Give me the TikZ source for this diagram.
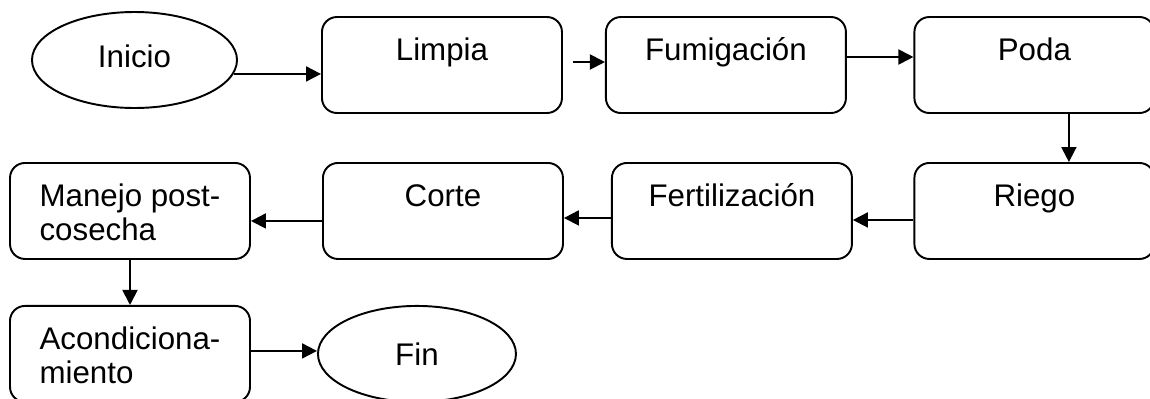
\documentclass[tikz,border=0pt]{standalone}
\usepackage{fontspec}
\setmainfont{Liberation Sans}
\usetikzlibrary{positioning,shapes.geometric,arrows.meta}

\newcommand{\etapa}[1]{\parbox[c][1.92cm][t]{4.8cm}{\centering\rule{0pt}{24.9pt}#1}}
\newcommand{\etapados}[2]{\parbox[c][1.92cm][t]{4.8cm}{\centering\rule{0pt}{24.9pt}\begin{tabular}[t]{@{}l@{}}#1\\#2\end{tabular}}}

\begin{document}
\begin{tikzpicture}[
    caja/.style={rectangle,draw,line width=1.1pt,rounded corners=0.3cm,inner sep=0pt},
    ovalo/.style={ellipse,draw,line width=1.1pt,minimum width=4.1cm,minimum height=1.92cm,inner sep=0pt},
    flecha/.style={-{Triangle[length=0.3cm,width=0.3cm]},line width=1.1pt},
    font=\fontsize{17.8}{19.3}\selectfont]
    \useasboundingbox (0,0) rectangle (23,-7.96);

    \node[ovalo] (inicio) at (2.69,-1.2) {\raisebox{0.14cm}{Inicio}};
    \node[caja,right=3.73cm,yshift=-0.1cm] (limpia) at (inicio) {\etapa{Limpia}};
    \node[caja,right=3.26cm] (fumig) at (limpia) {\etapa{Fumigación}};
    \node[caja,right=3.75cm] (poda) at (fumig) {\etapa{Poda}};

    \node[caja,below=1.94cm] (riego) at (poda) {\etapa{Riego}};
    \node[caja,left=3.63cm] (fert) at (riego) {\etapa{Fertilización}};
    \node[caja,left=3.36cm] (corte) at (fert) {\etapa{Corte}};
    \node[caja,left=3.84cm] (manejo) at (corte) {\etapados{Manejo post-}{cosecha}};

    \node[caja,below=1.88cm] (acond) at (manejo) {\etapados{Acondiciona-}{miento}};
    \node[ovalo,minimum width=3.96cm,right=3.74cm] (fin) at (acond) {Fin};

    \draw[flecha] (inicio.-8) -- (inicio.-8 -| limpia.west);
    \draw[flecha] ([xshift=0.2cm,yshift=0.06cm]limpia.east) -- ([yshift=0.06cm]fumig.west);
    \draw[flecha] ([yshift=0.16cm]fumig.east) -- ([yshift=0.16cm]poda.west);
    \draw[flecha] ([xshift=0.69cm]poda.south) -- ([xshift=0.69cm]riego.north);
    \draw[flecha] ([yshift=-0.18cm]riego.west) -- ([yshift=-0.18cm]fert.east);
    \draw[flecha] ([yshift=-0.14cm]fert.west) -- ([yshift=-0.14cm]corte.east);
    \draw[flecha] ([yshift=-0.2cm]corte.west) -- ([yshift=-0.2cm]manejo.east);
    \draw[flecha] (manejo.south) -- (acond.north);
    \draw[flecha] ([yshift=0.06cm]acond.east) -- ([yshift=0.06cm]fin.west);
\end{tikzpicture}
\end{document}
